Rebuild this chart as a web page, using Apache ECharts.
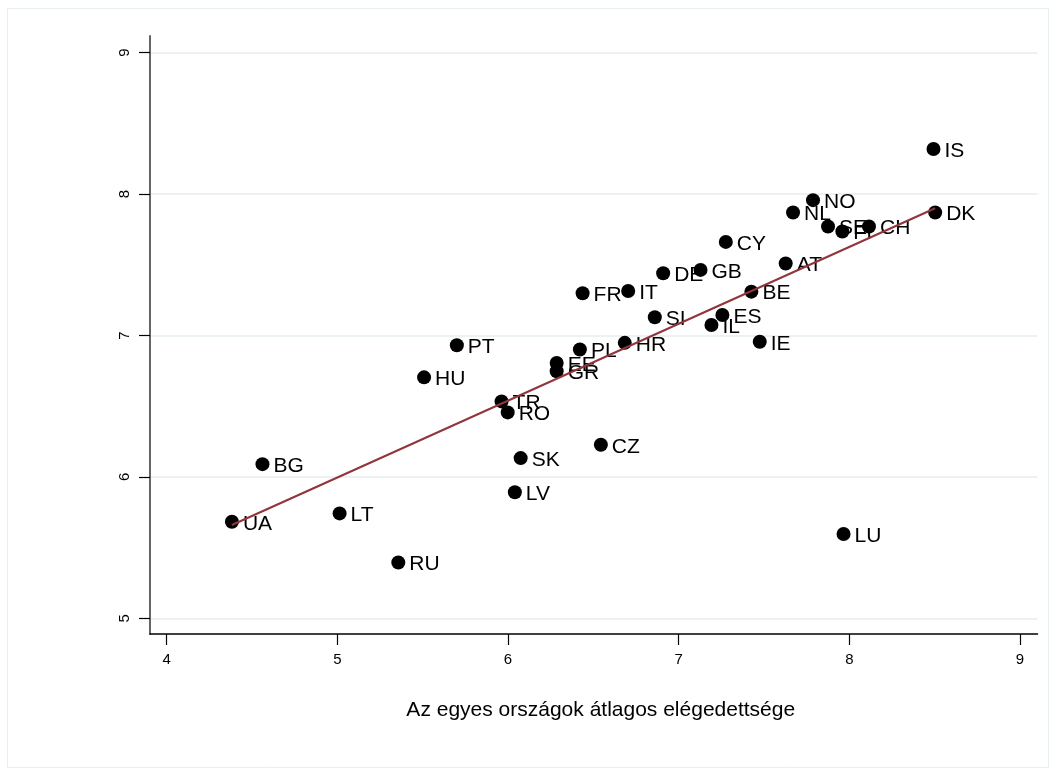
<!DOCTYPE html>
<html>
<head>
<meta charset="utf-8">
<script src="https://cdn.jsdelivr.net/npm/echarts@6/dist/echarts.min.js"></script>
<style>
html,body{margin:0;padding:0;background:#fff;}
#chart{width:1056px;height:776px;}
</style>
</head>
<body>
<div id="chart"></div>
<script>
const countries = ['IS','DK','NO','NL','SE','FI','CH','CY','AT','GB','DE','FR','IT','BE','SI','ES','IL','IE','HR','PL','EE','GR','PT','HU','TR','RO','CZ','SK','LV','BG','UA','LT','RU','LU'];
const xValues = [8.493,8.503,7.787,7.670,7.875,7.959,8.115,7.276,7.627,7.128,6.909,6.437,6.704,7.426,6.860,7.256,7.192,7.475,6.684,6.421,6.285,6.285,5.700,5.508,5.962,5.998,6.544,6.074,6.040,4.561,4.382,5.013,5.357,7.966];
const yValues = [8.319,7.870,7.957,7.870,7.771,7.735,7.771,7.662,7.509,7.464,7.440,7.299,7.315,7.310,7.129,7.145,7.074,6.956,6.948,6.901,6.806,6.747,6.931,6.704,6.534,6.456,6.227,6.133,5.891,6.090,5.683,5.742,5.395,5.596];
const fitLine = [[4.382,5.66],[8.503,7.90]];
const xTicks = [4,5,6,7,8,9];
const yTicks = [5,6,7,8,9];
const xTitle = 'Az egyes országok átlagos elégedettsége';

const points = countries.map((c,i)=>[xValues[i], yValues[i], c]);
const font = '"Liberation Sans", Arial, Helvetica, sans-serif';

const chart = echarts.init(document.getElementById('chart'), null, {renderer:'canvas'});
chart.setOption({
  animation:false,
  backgroundColor:'#ffffff',
  graphic:[{type:'rect', shape:{x:7.5,y:8.5,width:1041,height:759}, style:{fill:'none', stroke:'#e8eff2', lineWidth:1}, z:-10}],
  grid:{left:150, right:18.5, top:36, bottom:142, containLabel:false},
  xAxis:{
    type:'value', min:3.902, max:9.1025,
    name:xTitle, nameLocation:'middle', nameGap:66,
    nameTextStyle:{fontFamily:font, fontSize:21, color:'#000', padding:[0,0,0,14]},
    axisLine:{show:true, onZero:false, lineStyle:{color:'#000', width:1.5}},
    axisTick:{show:true, length:11, customValues:xTicks, lineStyle:{color:'#000', width:1.2}},
    axisLabel:{customValues:xTicks, fontFamily:font, fontSize:15, color:'#000', margin:18},
    splitLine:{show:false}
  },
  yAxis:{
    type:'value', min:4.889, max:9.118,
    axisLine:{show:true, onZero:false, lineStyle:{color:'#555', width:1.8}},
    axisTick:{show:true, length:11, customValues:yTicks, lineStyle:{color:'#000', width:1.2}},
    axisLabel:{customValues:yTicks, rotate:90, fontFamily:font, fontSize:15, color:'#000', margin:18},
    splitLine:{show:true, lineStyle:{color:'#e6eef1', width:1.5}}
  },
  series:[
    {
      type:'scatter', data:points, symbol:'circle', symbolSize:14,
      itemStyle:{color:'#000', opacity:1},
      label:{show:true, position:'right', distance:4, offset:[0,2], formatter:p=>p.data[2], fontFamily:font, fontSize:21, color:'#000'},
      z:2
    },
    {
      type:'line', data:fitLine, showSymbol:false, symbol:'none',
      lineStyle:{color:'#90353b', width:2},
      z:5
    }
  ]
});
</script>
</body>
</html>
